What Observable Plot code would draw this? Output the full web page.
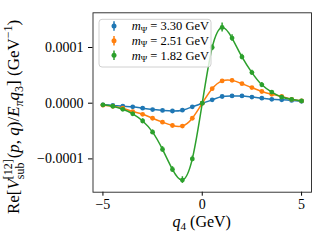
<!DOCTYPE html>
<html><head><meta charset="utf-8">
<script src="https://cdn.jsdelivr.net/npm/d3@7"></script>
<script src="https://cdn.jsdelivr.net/npm/@observablehq/plot@0.6"></script>
<style>body{margin:0;background:#fff;} svg{display:block} text{white-space:pre}</style>
</head><body><div id="chart"></div>
<script>
// q4 values (GeV)
const q4 = [-5,-4.5,-4,-3.5,-3,-2.5,-2,-1.5,-1,-0.5,0,0.5,1,1.5,2,2.5,3,3.5,4,4.5,5];
// series labels (m_Psi in GeV)
const masses = ["3.30","2.51","1.82"];
const colors = ["#1f77b4","#ff7f0e","#2ca02c"];
// values in units of 1e-4 GeV^-1
const v330 = [-0.03,-0.04,-0.055,-0.065,-0.09,-0.115,-0.13,-0.14,-0.125,-0.065,0,0.06,0.12,0.13,0.13,0.11,0.09,0.07,0.06,0.05,0.035];
const e330 = [0.012,0.012,0.012,0.012,0.012,0.012,0.014,0.014,0.014,0.012,0.01,0.012,0.014,0.014,0.014,0.012,0.012,0.012,0.012,0.012,0.012];
const v251 = [-0.035,-0.055,-0.09,-0.15,-0.2,-0.27,-0.34,-0.4,-0.41,-0.27,0,0.26,0.4,0.41,0.35,0.28,0.21,0.16,0.12,0.07,0.04];
const e251 = [0.015,0.015,0.018,0.02,0.02,0.022,0.022,0.025,0.025,0.022,0.015,0.022,0.025,0.025,0.022,0.022,0.02,0.02,0.018,0.015,0.015];
const v182 = [-0.03,-0.055,-0.11,-0.19,-0.32,-0.52,-0.83,-1.19,-1.38,-1.0,0,1.0,1.36,1.17,0.83,0.55,0.33,0.2,0.11,0.07,0.04];
const e182 = [0.02,0.02,0.03,0.03,0.04,0.04,0.05,0.05,0.06,0.05,0.03,0.05,0.08,0.06,0.05,0.04,0.04,0.03,0.03,0.02,0.02];
const yTicks = [-1,0,1];
const xTicks = [-5,0,5];

const vals = [v330, v251, v182];
const errs = [e330, e251, e182];
const rows = [];
masses.forEach((m,k)=> q4.forEach((q,i)=> rows.push({m, q, v: vals[k][i], e: errs[k][i]})));

const FONT = "'Liberation Serif', 'Times New Roman', serif";
const marks = [];
masses.forEach((m,k)=>{
  const d = rows.filter(r=>r.m===m);
  marks.push(Plot.ruleX(d,{x:"q", y1: r=>r.v-r.e, y2: r=>r.v+r.e, stroke: colors[k], strokeWidth:1.5}));
  marks.push(Plot.dot(d,{x:"q", y:"v", r:2.4, fill: colors[k], stroke:"none"}));
  marks.push(Plot.line(d,{x:"q", y:"v", stroke: colors[k], strokeWidth:1.5, curve:"natural"}));
});

const svgNode = Plot.plot({
  width: 320, height: 240,
  marginLeft: 92.5, marginRight: 9, marginTop: 12.3, marginBottom: 48.3,
  style: {fontFamily: FONT, fontSize: "14px", background: "#fff", color: "#000"},
  x: {domain: [-5.5, 5.5]},
  y: {domain: [-1.598, 1.623]},
  marks: [
    ...marks,
    Plot.axisX({ticks: xTicks, tickSize: 4, tickPadding: 3, tickFormat: d3.format("d"), label: null, fontSize: 14, fontFamily: FONT, fontVariant: "normal"}),
    Plot.axisY({ticks: yTicks, tickSize: 4.5, tickPadding: 5, tickFormat: d => d3.format(".4f")(d*1e-4), label: null, fontSize: 14, fontFamily: FONT, fontVariant: "normal"}),
    Plot.frame({stroke: "#222", strokeWidth: 0.9})
  ]
});
document.getElementById("chart").appendChild(svgNode);
const svg = d3.select(svgNode);
svg.style("font-family", FONT);
svg.selectAll("text").style("font-family", FONT);

function measure(str, size, italic){
  const t = svg.append("text").style("font-family", FONT).attr("font-size", size).text(str);
  if (italic) t.attr("font-style","italic");
  const w = t.node().getComputedTextLength();
  t.remove();
  return w;
}
function rich(text, F, segs){
  let cur = 0;
  segs.forEach(s=>{
    const sz = s.sz ? F*s.sz : F;
    const off = s.off ? F*s.off : 0;
    const ts = text.append("tspan").text(s.t).attr("font-size", sz).attr("dy", off-cur);
    if (s.it) ts.attr("font-style","italic");
    if (s.dx) ts.attr("dx", s.dx);
    cur = off;
  });
}

// x label
const FX = 16;
const xl = svg.append("text").attr("x", 201.7).attr("y", 226.5).attr("text-anchor","middle")
  .style("font-family", FONT).attr("font-size", FX).attr("fill","#000");
rich(xl, FX, [{t:"q", it:true},{t:"4", sz:.7, off:.22},{t:" (GeV)"}]);

// y label
const FY = 17;
const w1 = measure("[12]", FY*.7), w2 = measure("sub", FY*.7);
const yl = svg.append("text").attr("transform","translate(19,117) rotate(-90)").attr("text-anchor","middle")
  .style("font-family", FONT).attr("font-size", FY).attr("fill","#000");
rich(yl, FY, [
  {t:"Re["},{t:"V", it:true},
  {t:"[12]", sz:.7, off:-.42},
  {t:"sub", sz:.7, off:.3, dx:-w1},
  {t:"(", dx: w1-w2+1},{t:"p", it:true},{t:", "},{t:"q", it:true},{t:")/"},
  {t:"E", it:true},{t:"π", it:true, sz:.7, off:.22},{t:"q", it:true},{t:"3", sz:.7, off:.22},
  {t:"] (GeV"},{t:"−1", sz:.7, off:-.42},{t:")"}
]);

// legend
const lg = svg.append("g");
lg.append("rect").attr("x",99).attr("y",19.3).attr("width",112).attr("height",47.7).attr("rx",3)
  .attr("fill","#fff").attr("fill-opacity",0.8).attr("stroke","#d0d0d0").attr("stroke-width",1);
const rowY = [26, 40.7, 55.3];
masses.forEach((m,k)=>{
  const c = rowY[k];
  lg.append("line").attr("x1",114).attr("x2",114).attr("y1",c-4.7).attr("y2",c+4.7).attr("stroke",colors[k]).attr("stroke-width",1.5);
  lg.append("circle").attr("cx",114).attr("cy",c).attr("r",2.5).attr("fill",colors[k]);
  const t = lg.append("text").attr("x",131.7).attr("y",c+4.2).attr("text-anchor","start")
    .style("font-family",FONT).attr("font-size",12.5).attr("fill","#000");
  rich(t, 12.5, [{t:"m", it:true},{t:"Ψ", sz:.7, off:.2},{t:" = "+m+" GeV"}]);
});
</script></body></html>
